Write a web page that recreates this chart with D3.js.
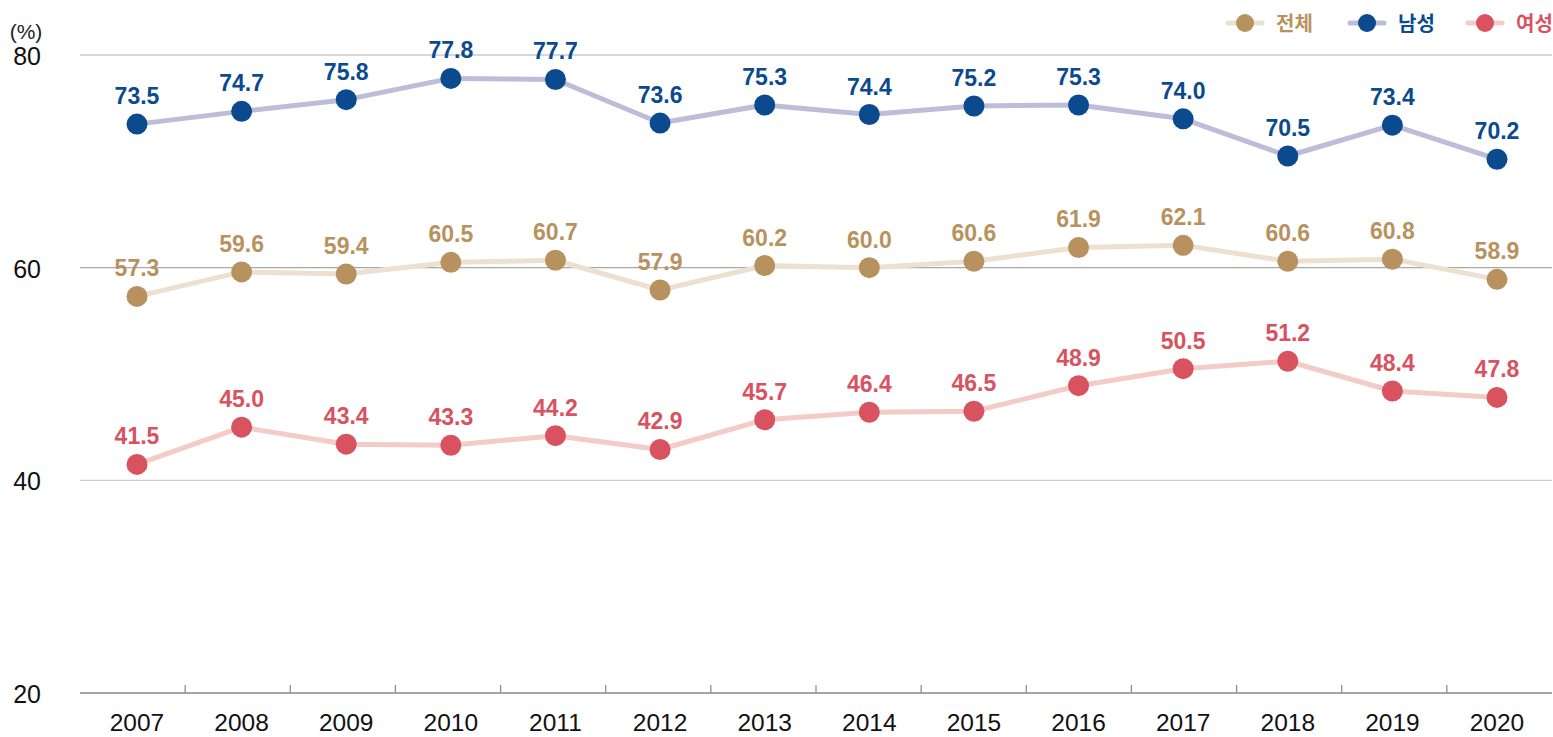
<!DOCTYPE html>
<html>
<head>
<meta charset="utf-8">
<script src="https://cdn.jsdelivr.net/npm/d3@7"></script>
<style>
  html, body { margin: 0; padding: 0; background: #fff; }
  svg { display: block; font-family: "Liberation Sans", Arial, Helvetica, sans-serif; }
</style>
</head>
<body>
<svg id="chart" width="1553" height="737"></svg>
<script>
// Employment rate by year (%), total / male / female
const years = ["2007","2008","2009","2010","2011","2012","2013","2014","2015","2016","2017","2018","2019","2020"];
const totalRate  = [57.3, 59.6, 59.4, 60.5, 60.7, 57.9, 60.2, 60.0, 60.6, 61.9, 62.1, 60.6, 60.8, 58.9];
const maleRate   = [73.5, 74.7, 75.8, 77.8, 77.7, 73.6, 75.3, 74.4, 75.2, 75.3, 74.0, 70.5, 73.4, 70.2];
const femaleRate = [41.5, 45.0, 43.4, 43.3, 44.2, 42.9, 45.7, 46.4, 46.5, 48.9, 50.5, 51.2, 48.4, 47.8];
const yTicks = [20, 40, 60, 80];
const seriesNames = ["전체", "남성", "여성"];

const series = [
  { name: seriesNames[1], values: maleRate,   dot: "#0b4a8e", line: "#bdbdd9" },
  { name: seriesNames[0], values: totalRate,  dot: "#b8925e", line: "#ede0d0" },
  { name: seriesNames[2], values: femaleRate, dot: "#d9525f", line: "#f3cbc7" }
];

const svg = d3.select("#chart");

const y = d3.scaleLinear().domain([20, 80]).range([693, 55]);
const xBand = d3.scaleBand().domain(years).range([80, 1552]);
const xPt = d3.scalePoint().domain(years).range([137, 1497]);

// grid lines
const gridColor = { 80: "#b0b0b0", 60: "#a8a8a8", 40: "#cccccc" };
svg.append("g").selectAll("line")
  .data(yTicks.filter(t => t > 20))
  .join("line")
  .attr("x1", 80).attr("x2", 1552)
  .attr("y1", d => y(d)).attr("y2", d => y(d))
  .attr("stroke", d => gridColor[d])
  .attr("stroke-width", 1.2);

// y labels
svg.append("g").selectAll("text")
  .data(yTicks)
  .join("text")
  .attr("x", 41).attr("y", d => y(d) + 10)
  .attr("text-anchor", "end")
  .attr("font-size", 25)
  .attr("fill", "#111")
  .text(d => d);

svg.append("text")
  .attr("x", 26).attr("y", 39)
  .attr("text-anchor", "middle")
  .attr("font-size", 21)
  .attr("fill", "#222")
  .text("(%)");

// x axis baseline and ticks at band boundaries
svg.append("line")
  .attr("x1", 80).attr("x2", 1552)
  .attr("y1", y(20)).attr("y2", y(20))
  .attr("stroke", "#888").attr("stroke-width", 1.6);

svg.append("g").selectAll("line")
  .data(years.slice(1))
  .join("line")
  .attr("x1", d => xBand(d)).attr("x2", d => xBand(d))
  .attr("y1", y(20) - 8).attr("y2", y(20))
  .attr("stroke", "#888").attr("stroke-width", 1.2);

svg.append("g").selectAll("text")
  .data(years)
  .join("text")
  .attr("x", d => xPt(d)).attr("y", y(20) + 38)
  .attr("text-anchor", "middle")
  .attr("font-size", 24.5)
  .attr("fill", "#111")
  .text(d => d);

// lines
const line = d3.line().x((d, i) => xPt(years[i])).y(d => y(d));
series.forEach(s => {
  svg.append("path")
    .datum(s.values)
    .attr("d", line)
    .attr("fill", "none")
    .attr("stroke", s.line)
    .attr("stroke-width", 5)
    .attr("stroke-linejoin", "round");
});

// points and value labels
series.forEach(s => {
  const g = svg.append("g");
  g.selectAll("circle")
    .data(s.values)
    .join("circle")
    .attr("cx", (d, i) => xPt(years[i]))
    .attr("cy", d => y(d))
    .attr("r", 10.5)
    .attr("fill", s.dot);
  g.selectAll("text")
    .data(s.values)
    .join("text")
    .attr("x", (d, i) => xPt(years[i]))
    .attr("y", d => y(d) - 20)
    .attr("text-anchor", "middle")
    .attr("font-size", 23)
    .attr("font-weight", "bold")
    .attr("fill", s.dot)
    .text(d => d.toFixed(1));
});

// legend
const legendItems = [
  { name: seriesNames[0], dot: "#b8925e", line: "#ede0d0", cx: 1245 },
  { name: seriesNames[1], dot: "#0b4a8e", line: "#bdbdd9", cx: 1367 },
  { name: seriesNames[2], dot: "#d9525f", line: "#f3cbc7", cx: 1485 }
];
const lg = svg.append("g");
legendItems.forEach(it => {
  lg.append("line")
    .attr("x1", it.cx - 17).attr("x2", it.cx + 17)
    .attr("y1", 23).attr("y2", 23)
    .attr("stroke", it.line).attr("stroke-width", 5).attr("stroke-linecap", "round");
  lg.append("circle")
    .attr("cx", it.cx).attr("cy", 23).attr("r", 9)
    .attr("fill", it.dot);
  lg.append("text")
    .attr("x", it.cx + 31).attr("y", 31)
    .attr("font-family", "'Noto Sans CJK KR', sans-serif")
    .attr("font-size", 20)
    .attr("font-weight", "bold")
    .attr("fill", it.dot)
    .text(it.name);
});
</script>
</body>
</html>
